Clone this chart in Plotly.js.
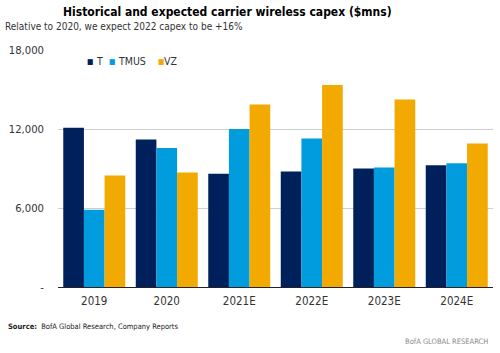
<!DOCTYPE html>
<html>
<head>
<meta charset="utf-8">
<script src="https://cdn.plot.ly/plotly-3.0.1.min.js"></script>
<style>html,body{margin:0;padding:0;background:#fff}#chart{width:500px;height:353px}</style>
</head>
<body>
<div id="chart"></div>
<script>
const categories = ["2019", "2020", "2021E", "2022E", "2023E", "2024E"];
const seriesNames = ["T", "TMUS", "VZ"];
const tValues = [12100, 11200, 8600, 8780, 9000, 9240];
const tmusValues = [5870, 10560, 12000, 11270, 9080, 9390];
const vzValues = [8470, 8700, 13870, 15340, 14250, 10890];
const seriesColors = ["#00205B", "#009CDE", "#F2A900"];
const yTickVals = [0, 6000, 12000, 18000];
const yTickText = ["-", "6,000", "12,000", "18,000"];

const FONT = "DejaVu Sans Condensed";
const values = [tValues, tmusValues, vzValues];
const traces = seriesNames.map((n, i) => ({
  type: "bar", name: n, x: categories, y: values[i],
  marker: {color: seriesColors[i], line: {width: 0}},
  hoverinfo: "x+y+name"
}));

const L = 57.5, W = 435.5, B = 287, H = 237;
const px = v => (v - L) / W;
const py = v => (B - v) / H;

const annotations = [];
const legendSq = [84.5, 107, 155.5];
const legendTx = [93.5, 115.5, 162];
seriesNames.forEach((n, i) => {
  annotations.push({
    xref: "paper", yref: "paper", x: px(legendSq[i]), y: py(61.5),
    xanchor: "left", yanchor: "middle", showarrow: false,
    text: "■", font: {family: FONT, size: 7.5, color: seriesColors[i]}
  });
  annotations.push({
    xref: "paper", yref: "paper", x: px(legendTx[i]), y: py(61.5),
    xanchor: "left", yanchor: "middle", showarrow: false,
    text: n, font: {family: FONT, size: 10.5, color: "#333"}
  });
});
annotations.push({
  xref: "paper", yref: "paper", x: px(61), y: py(12),
  xanchor: "left", yanchor: "middle", showarrow: false,
  text: "<b>Historical and expected carrier wireless capex ($mns)</b>",
  font: {family: FONT, size: 12, color: "#000"}
});
annotations.push({
  xref: "paper", yref: "paper", x: px(2), y: py(26.5),
  xanchor: "left", yanchor: "middle", showarrow: false,
  text: "Relative to 2020, we expect 2022 capex to be +16%",
  font: {family: FONT, size: 10, color: "#333"}
});
annotations.push({
  xref: "paper", yref: "paper", x: px(5), y: py(326),
  xanchor: "left", yanchor: "middle", showarrow: false,
  text: "<b>Source:</b>  BofA Global Research, Company Reports",
  font: {family: FONT, size: 7.5, color: "#222"}
});
annotations.push({
  xref: "paper", yref: "paper", x: px(490), y: py(341.5),
  xanchor: "right", yanchor: "middle", showarrow: false,
  text: "BofA GLOBAL RESEARCH",
  font: {family: FONT, size: 7.5, color: "#8a8a8a"}
});

const layout = {
  width: 500, height: 353,
  margin: {l: L, r: 500 - L - W, t: 50, b: 353 - B, pad: 0},
  paper_bgcolor: "#fff", plot_bgcolor: "#fff",
  barmode: "group", bargap: 0.145, bargroupgap: 0,
  showlegend: false,
  font: {family: FONT, size: 11, color: "#333"},
  xaxis: {
    type: "category", showgrid: false, showline: true, linecolor: "#222", linewidth: 1,
    ticks: "", tickfont: {family: FONT, size: 11.5, color: "#333"}, ticklabelstandoff: 3
  },
  yaxis: {
    range: [0, 18000], tickvals: yTickVals, ticktext: yTickText,
    showgrid: true, gridcolor: "#cfcfcf", gridwidth: 1, zeroline: false,
    showline: false, ticks: "", ticklabelstandoff: 13,
    tickfont: {family: FONT, size: 11.2, color: "#333"}
  },
  annotations: annotations
};
Plotly.newPlot("chart", traces, layout, {displayModeBar: false, staticPlot: true});
</script>
</body>
</html>
